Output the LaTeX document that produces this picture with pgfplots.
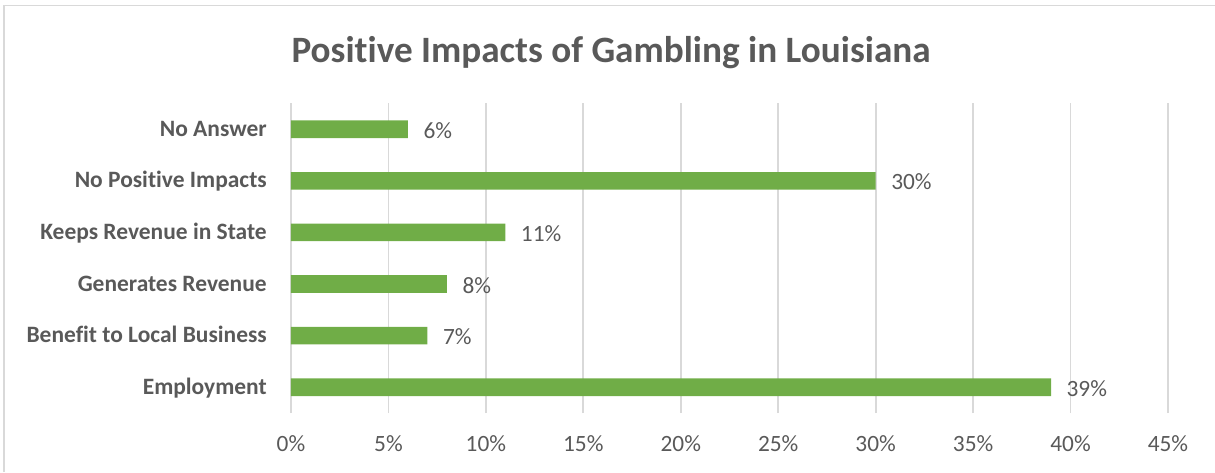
\documentclass[border=0pt]{standalone}
\usepackage{pgfplots}
\pgfplotsset{compat=1.18}
\usepackage{fontspec}
\setmainfont[Ligatures=NoCommon]{Carlito}
\definecolor{bargreen}{HTML}{70AD47}
\definecolor{txtgray}{HTML}{595959}
\definecolor{gridgray}{HTML}{D9D9D9}
\begin{document}
\begin{tikzpicture}
\useasboundingbox (0,0) rectangle (911.25pt,-354pt);
% chart frame
\draw[gridgray, line width=1pt] (3pt,-354pt) -- (3pt,-3.9pt) -- (911.25pt,-3.9pt);
% title
\node[anchor=base, text=txtgray, font=\fontsize{27.9}{34}\selectfont\bfseries, inner sep=0]
  at (458.25pt,-46.5pt) {Positive Impacts of Gambling in Louisiana};
\begin{axis}[
  at={(218.25pt,-309.75pt)}, anchor=south west,
  scale only axis,
  width=657.75pt, height=232.2pt,
  xbar, bar width=13.2pt, bar shift=0pt,
  xmin=0, xmax=45,
  ymin=-0.5, ymax=5.5,
  /pgf/number format/assume math mode=true,
  xtick={0,5,...,45},
  xticklabels={0\%,5\%,10\%,15\%,20\%,25\%,30\%,35\%,40\%,45\%},
  ytick={0,1,2,3,4,5},
  yticklabels={Employment,Benefit to Local Business,Generates Revenue,Keeps Revenue in State,No Positive Impacts,No Answer},
  xmajorgrids,
  major grid style={gridgray, line width=1.3pt},
  axis line style={draw=none},
  major tick length=0pt,
  xticklabel style={anchor=base, inner sep=0, yshift=-28.5pt, text=txtgray, font=\fontsize{17.5}{21}\selectfont},
  yticklabel style={anchor=base east, inner sep=0, xshift=-18pt, yshift=-5.25pt, text=txtgray, font=\fontsize{17.6}{21}\selectfont\bfseries},
  nodes near coords={\pgfmathprintnumber{\pgfplotspointmeta}\%},
  every node near coord/.append style={anchor=base west, inner sep=0, xshift=11.5pt, yshift=-6.75pt, text=txtgray, font=\fontsize{17.5}{21}\selectfont},
  clip=false,
]
\addplot[fill=bargreen, draw=none] coordinates {
  (39,0) (7,1) (8,2) (11,3) (30,4) (6,5)
};
\end{axis}
\end{tikzpicture}
\end{document}
